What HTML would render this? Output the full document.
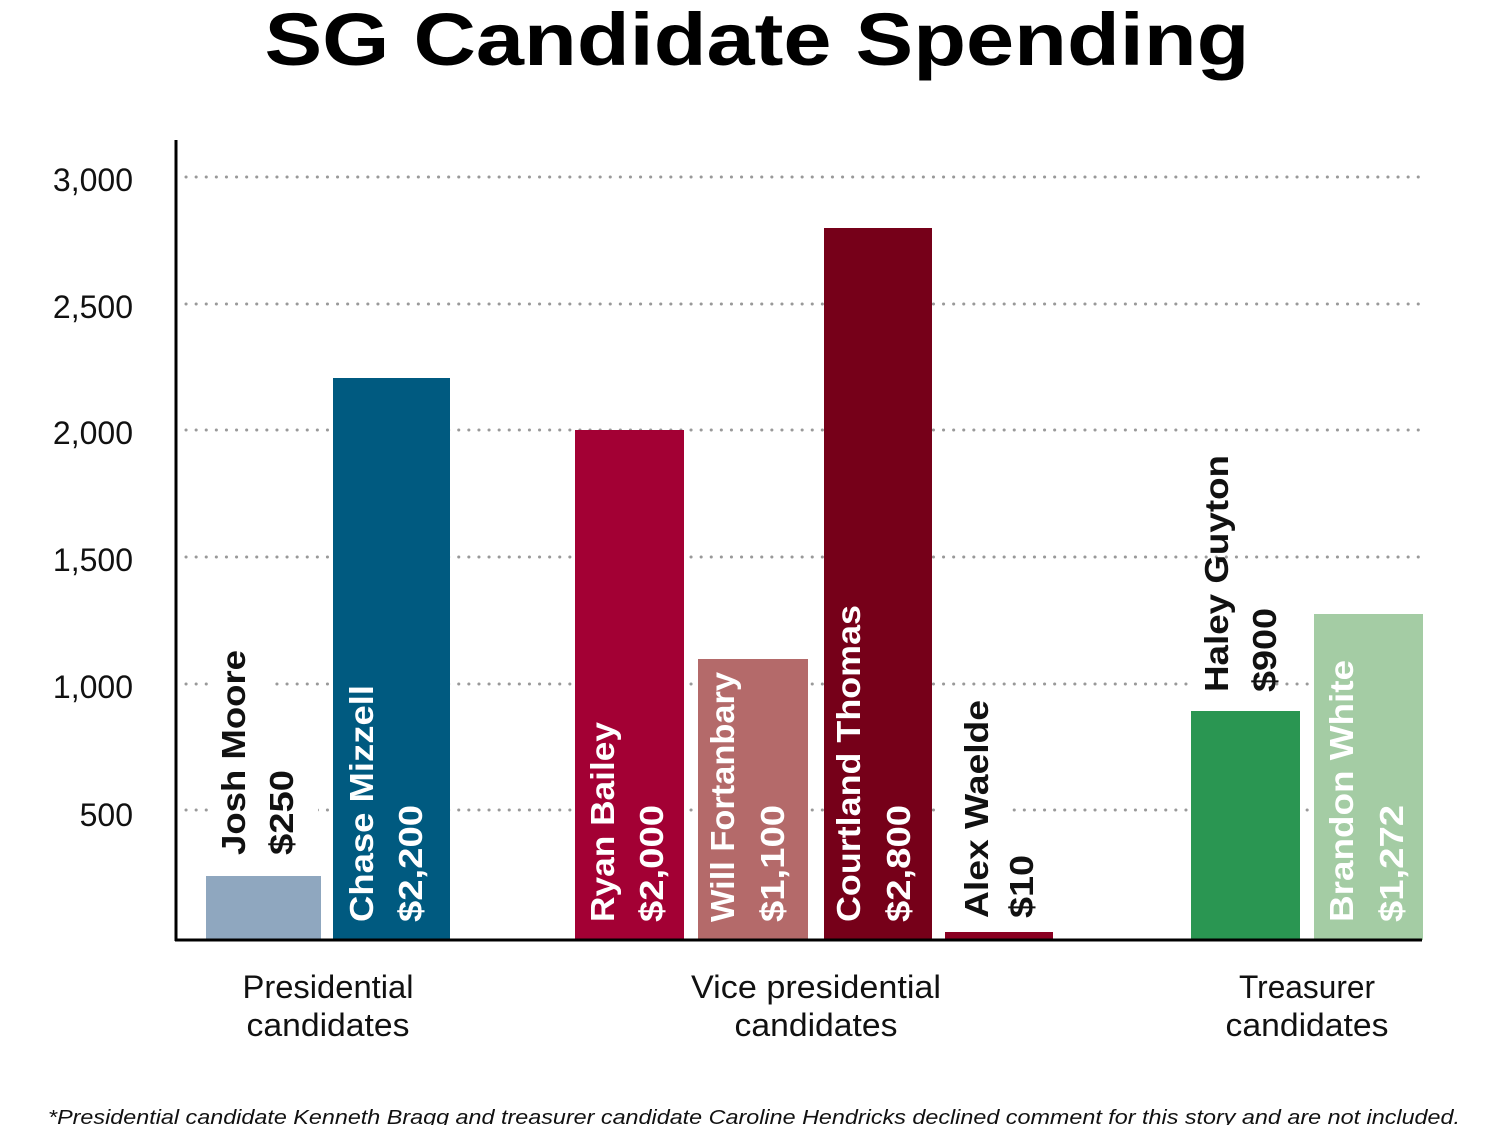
<!DOCTYPE html>
<html><head><meta charset="utf-8"><style>
html,body{margin:0;padding:0;background:#fff;}
svg{display:block;}
text{font-family:"Liberation Sans",Arial,sans-serif;}
</style></head><body>
<svg width="1500" height="1125" viewBox="0 0 1500 1125" xmlns="http://www.w3.org/2000/svg">
<rect width="1500" height="1125" fill="#fff"/>
<text x="757" y="65" text-anchor="middle" font-size="74" font-weight="bold" fill="#000" textLength="985" lengthAdjust="spacingAndGlyphs">SG Candidate Spending</text>
<g stroke="#999" stroke-width="3" stroke-linecap="round" stroke-dasharray="0.1 10">
<line x1="186" y1="177" x2="1420" y2="177"/>
<line x1="186" y1="304" x2="1420" y2="304"/>
<line x1="186" y1="430" x2="1420" y2="430"/>
<line x1="186" y1="557" x2="1420" y2="557"/>
<line x1="186" y1="684" x2="1420" y2="684"/>
<line x1="186" y1="810" x2="1420" y2="810"/>
</g>
<g font-size="32" fill="#111" text-anchor="end">
<text x="133" y="191">3,000</text>
<text x="133" y="318">2,500</text>
<text x="133" y="444">2,000</text>
<text x="133" y="571">1,500</text>
<text x="133" y="698">1,000</text>
<text x="133" y="826">500</text>
</g>
<!-- white backgrounds behind black labels -->
<rect x="212" y="645" width="62" height="215" fill="#fff"/>
<rect x="260" y="765" width="58" height="95" fill="#fff"/>
<rect x="940" y="695" width="66" height="228" fill="#fff"/>
<rect x="1190" y="674" width="78" height="20" fill="#fff"/>
<!-- bars -->
<rect x="206" y="876" width="115" height="64" fill="#8fa7bf"/>
<rect x="333" y="378" width="117" height="562" fill="#005a80"/>
<rect x="575" y="430" width="109" height="510" fill="#a30034"/>
<rect x="698" y="659" width="110" height="281" fill="#b46a6a"/>
<rect x="824" y="228" width="108" height="712" fill="#760019"/>
<rect x="945" y="932" width="108" height="8" fill="#8a0022"/>
<rect x="1191" y="711" width="109" height="229" fill="#2a9652"/>
<rect x="1314" y="614" width="109" height="326" fill="#a4cca4"/>
<!-- axes -->
<line x1="176" y1="140" x2="176" y2="941" stroke="#000" stroke-width="3"/>
<line x1="175" y1="940" x2="1422" y2="940" stroke="#000" stroke-width="3"/>
<!-- labels -->
<g font-size="33" font-weight="bold">
<text transform="translate(245,855) rotate(-90)" fill="#111" textLength="205" lengthAdjust="spacingAndGlyphs">Josh Moore</text>
<text transform="translate(293,855) rotate(-90)" fill="#111" textLength="85" lengthAdjust="spacingAndGlyphs">$250</text>
<text transform="translate(373,922) rotate(-90)" fill="#fff" textLength="237" lengthAdjust="spacingAndGlyphs">Chase Mizzell</text>
<text transform="translate(422,922) rotate(-90)" fill="#fff" textLength="117" lengthAdjust="spacingAndGlyphs">$2,200</text>
<text transform="translate(614,922) rotate(-90)" fill="#fff" textLength="200" lengthAdjust="spacingAndGlyphs">Ryan Bailey</text>
<text transform="translate(663,922) rotate(-90)" fill="#fff" textLength="117" lengthAdjust="spacingAndGlyphs">$2,000</text>
<text transform="translate(734,922) rotate(-90)" fill="#fff" textLength="250" lengthAdjust="spacingAndGlyphs">Will Fortanbary</text>
<text transform="translate(784,922) rotate(-90)" fill="#fff" textLength="117" lengthAdjust="spacingAndGlyphs">$1,100</text>
<text transform="translate(860,922) rotate(-90)" fill="#fff" textLength="317" lengthAdjust="spacingAndGlyphs">Courtland Thomas</text>
<text transform="translate(910,922) rotate(-90)" fill="#fff" textLength="117" lengthAdjust="spacingAndGlyphs">$2,800</text>
<text transform="translate(988,918) rotate(-90)" fill="#111" textLength="218" lengthAdjust="spacingAndGlyphs">Alex Waelde</text>
<text transform="translate(1033,918) rotate(-90)" fill="#111" textLength="63" lengthAdjust="spacingAndGlyphs">$10</text>
<text transform="translate(1228,692) rotate(-90)" fill="#111" textLength="237" lengthAdjust="spacingAndGlyphs">Haley Guyton</text>
<text transform="translate(1276,692) rotate(-90)" fill="#111" textLength="84" lengthAdjust="spacingAndGlyphs">$900</text>
<text transform="translate(1353,922) rotate(-90)" fill="#fff" textLength="262" lengthAdjust="spacingAndGlyphs">Brandon White</text>
<text transform="translate(1403,922) rotate(-90)" fill="#fff" textLength="117" lengthAdjust="spacingAndGlyphs">$1,272</text>
</g>
<g font-size="32" fill="#111" text-anchor="middle">
<text x="328" y="998" textLength="171" lengthAdjust="spacingAndGlyphs">Presidential</text>
<text x="328" y="1036" textLength="163" lengthAdjust="spacingAndGlyphs">candidates</text>
<text x="816" y="998" textLength="250" lengthAdjust="spacingAndGlyphs">Vice presidential</text>
<text x="816" y="1036" textLength="163" lengthAdjust="spacingAndGlyphs">candidates</text>
<text x="1307" y="998" textLength="136" lengthAdjust="spacingAndGlyphs">Treasurer</text>
<text x="1307" y="1036" textLength="163" lengthAdjust="spacingAndGlyphs">candidates</text>
</g>
<text x="48" y="1124" font-size="20" font-style="italic" fill="#111" textLength="1412" lengthAdjust="spacingAndGlyphs">*Presidential candidate Kenneth Bragg and treasurer candidate Caroline Hendricks declined comment for this story and are not included.</text>
</svg>
</body></html>
